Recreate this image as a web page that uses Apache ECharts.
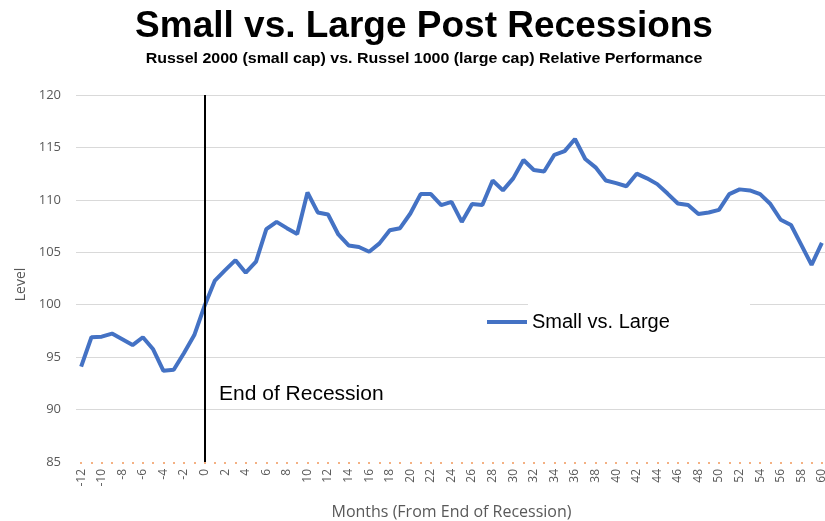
<!DOCTYPE html>
<html>
<head>
<meta charset="utf-8">
<script src="https://cdn.jsdelivr.net/npm/echarts@6/dist/echarts.min.js"></script>
<style>
html,body{margin:0;padding:0;background:#fff;}
#chart{width:825px;height:521px;}
</style>
</head>
<body>
<div id="chart"></div>
<script>
const months = ['-12','-11','-10','-9','-8','-7','-6','-5','-4','-3','-2','-1','0','1','2','3','4','5','6','7','8','9','10','11','12','13','14','15','16','17','18','19','20','21','22','23','24','25','26','27','28','29','30','31','32','33','34','35','36','37','38','39','40','41','42','43','44','45','46','47','48','49','50','51','52','53','54','55','56','57','58','59','60'];
const smallVsLarge = [94.1, 96.9, 96.95, 97.25, 96.7, 96.15, 96.9, 95.75, 93.7, 93.8, 95.4, 97.1, 99.9,
  102.3, 103.3, 104.25, 103.05, 104.1, 107.2, 107.9, 107.3, 106.75, 110.7, 108.8, 108.6,
  106.7, 105.65, 105.5, 105.05, 105.85, 107.1, 107.3, 108.7, 110.55, 110.55, 109.5, 109.8,
  107.9, 109.6, 109.5, 111.85, 110.9, 112.05, 113.8, 112.85, 112.7, 114.3, 114.65, 115.8,
  113.9, 113.1, 111.85, 111.6, 111.3, 112.5, 112.05, 111.5, 110.6, 109.65, 109.5, 108.65,
  108.8, 109.05, 110.55, 111.0, 110.9, 110.55, 109.6, 108.1, 107.6, 105.7, 103.8, 105.9];
const recessionEnd = '0';
const yTicks = {min: 85, max: 120, step: 5};

const chart = echarts.init(document.getElementById('chart'), null, {renderer: 'canvas'});
const grey = '#595959';
chart.setOption({
  backgroundColor: '#fff',
  animation: false,
  legend: {
    data: ['Small vs. Large'],
    left: 487, top: 312,
    padding: 0,
    icon: 'rect', itemWidth: 40, itemHeight: 4, itemGap: 11,
    textStyle: {fontFamily: 'Liberation Sans', fontSize: 20, color: '#000'}
  },
  grid: {left: 76, top: 95, width: 751, bottom: 59, containLabel: false, outerBoundsMode: 'none'},
  xAxis: {
    type: 'category',
    data: months,
    boundaryGap: true,
    name: 'Months (From End of Recession)',
    nameLocation: 'middle',
    nameGap: 42,
    nameTextStyle: {fontFamily: 'Open Sans', fontSize: 16, color: grey, padding: [0, 0, 0, 0]},
    axisLine: {show: true, lineStyle: {color: '#fff', width: 2}},
    axisTick: {show: true, alignWithLabel: true, interval: 0, length: 2, lineStyle: {color: '#f4b183', width: 2}},
    axisLabel: {interval: 1, rotate: 90, margin: 7, fontFamily: 'Open Sans', fontSize: 12, color: grey},
    splitLine: {show: false}
  },
  yAxis: {
    type: 'value',
    min: yTicks.min, max: yTicks.max, interval: yTicks.step,
    name: 'Level',
    nameLocation: 'middle',
    nameGap: 48,
    nameTextStyle: {fontFamily: 'Open Sans', fontSize: 14, color: grey, padding: [0, 12, 0, 0]},
    axisLine: {show: false},
    axisTick: {show: false},
    axisLabel: {margin: 15, fontFamily: 'Open Sans', fontSize: 13, color: grey},
    splitLine: {lineStyle: {color: '#d9d9d9', width: 1}}
  },
  graphic: [{
    type: 'text', x: 424, y: 8, z: 5,
    style: {text: 'Small vs. Large Post Recessions', fontFamily: 'Liberation Sans', fontWeight: 'bold', fontSize: 37, fill: '#000', textAlign: 'center', textVerticalAlign: 'top'}
  }, {
    type: 'text', x: 424, y: 51, z: 5, scaleX: 1.065, originX: 0,
    style: {text: 'Russel 2000 (small cap) vs. Russel 1000 (large cap) Relative Performance', fontFamily: 'Liberation Sans', fontWeight: 'bold', fontSize: 15, fill: '#000', textAlign: 'center', textVerticalAlign: 'top'}
  }, {
    type: 'rect', z: 1, silent: true,
    shape: {x: 528, y: 296, width: 222, height: 48},
    style: {fill: '#fff'}
  }, {
    type: 'text', left: 219, top: 384, z: 5,
    style: {text: 'End of Recession', fontFamily: 'Liberation Sans', fontSize: 21, fill: '#000'}
  }],
  series: [{
    name: 'Small vs. Large',
    type: 'line',
    data: smallVsLarge,
    showSymbol: false,
    symbol: 'none',
    lineStyle: {color: '#4472c4', width: 4},
    itemStyle: {color: '#4472c4'},
    z: 3,
    markLine: {
      silent: true,
      symbol: 'none',
      label: {show: false},
      lineStyle: {color: '#000', width: 2, type: 'solid'},
      data: [{xAxis: recessionEnd}]
    }
  }]
});
</script>
</body>
</html>
